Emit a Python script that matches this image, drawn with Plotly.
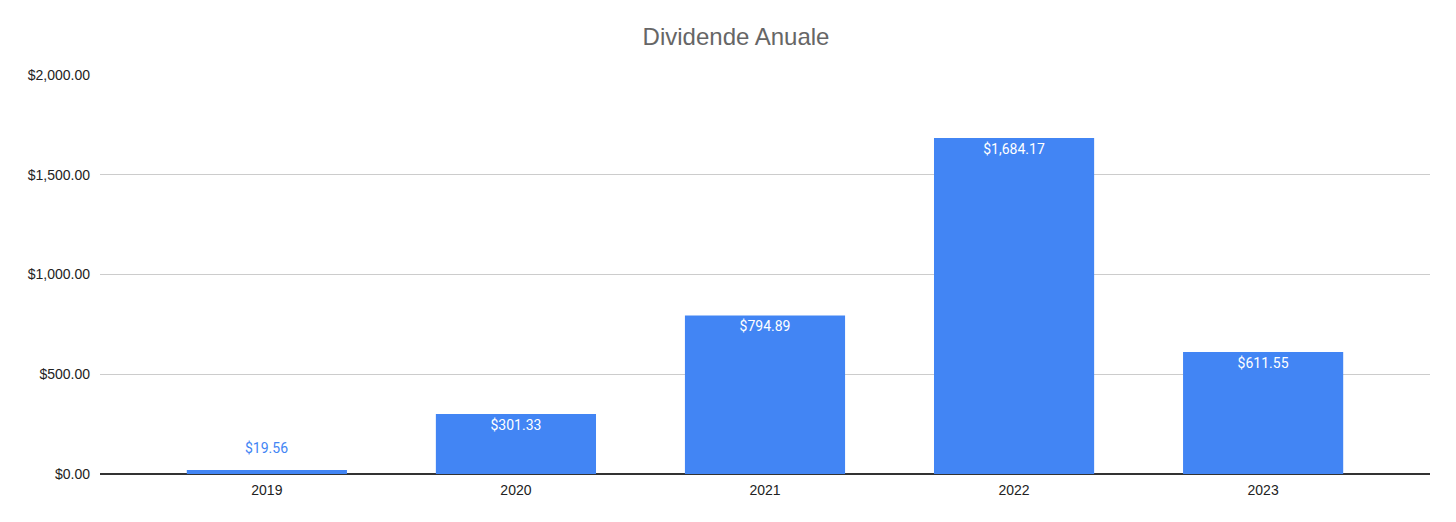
import plotly.graph_objects as go

years = ["2019", "2020", "2021", "2022", "2023"]
dividends = [19.56, 301.33, 794.89, 1684.17, 611.55]
y_ticks = [0, 500, 1000, 1500, 2000]
y_tick_labels = ["$0.00", "$500.00", "$1,000.00", "$1,500.00", "$2,000.00"]

bar_color = "#4285f4"
labels = [f"${v:,.2f}" for v in dividends]
# small bars get their label above the bar (annotation), the rest inside at the top
small = [v < 100 for v in dividends]
inside_labels = ["" if s else t for s, t in zip(small, labels)]

fig = go.Figure()
fig.add_trace(go.Bar(
    x=years,
    y=dividends,
    marker=dict(color=bar_color, line=dict(width=0)),
    text=inside_labels,
    textposition="inside",
    insidetextanchor="end",
    textfont=dict(color="white", size=14, family="Roboto"),
    width=0.643,
))

for i, (v, t, s) in enumerate(zip(dividends, labels, small)):
    if s:
        fig.add_annotation(x=i, y=v, xref="x", yref="y", text=t, showarrow=False,
                           yanchor="bottom", yshift=12,
                           font=dict(color=bar_color, size=14, family="Roboto"))

fig.update_layout(
    title=dict(text="Dividende Anuale", x=0.5, y=0.945, xanchor="center", yanchor="middle",
               font=dict(family="Liberation Sans, Arial", size=24, color="#666666")),
    width=1456,
    height=522,
    margin=dict(l=92, r=34, t=67, b=56),
    plot_bgcolor="white",
    paper_bgcolor="white",
    showlegend=False,
    uniformtext=dict(minsize=14, mode="show"),
)
fig.update_xaxes(
    type="category",
    range=[-0.67, 4.67],
    showgrid=False,
    tickfont=dict(family="Liberation Sans, Arial", size=14, color="#222"),
    ticks="",
    ticklabelstandoff=6,
)
fig.update_yaxes(
    range=[0, 2000],
    tickvals=y_ticks,
    ticktext=y_tick_labels,
    showgrid=True,
    gridcolor="#cccccc",
    zeroline=True,
    zerolinecolor="#333333",
    zerolinewidth=1.5,
    tickfont=dict(family="Liberation Sans, Arial", size=14, color="#222"),
    ticks="",
    ticklabelstandoff=9,
)

fig.write_html("out.html")
